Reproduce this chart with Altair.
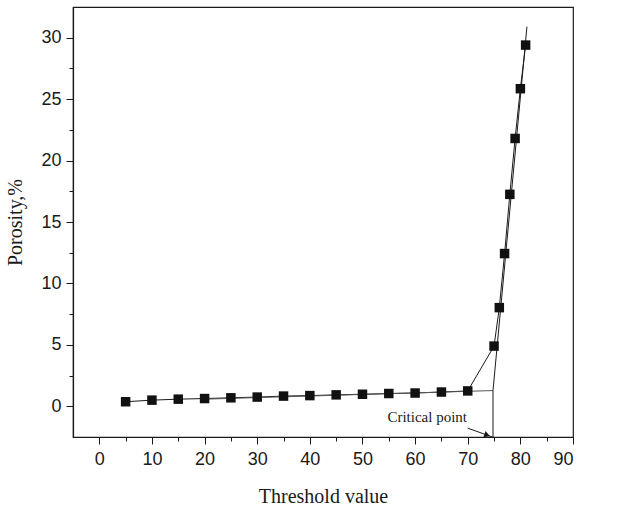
import altair as alt
import pandas as pd

# ---- data ----
threshold = [5, 10, 15, 20, 25, 30, 35, 40, 45, 50, 55, 60, 65, 70,
             75, 76, 77, 78, 79, 80, 81]
porosity = [0.37, 0.50, 0.58, 0.63, 0.69, 0.75, 0.83, 0.87, 0.93, 0.98,
            1.04, 1.08, 1.16, 1.25, 4.90, 8.03, 12.43, 17.25, 21.80, 25.85, 29.40]

low_fit_x = [20.0, 74.8]
low_fit_y = [0.58, 1.28]
steep_fit_x = [74.8, 81.25]
steep_fit_y = [1.28, 30.9]
critical_x = [74.8, 74.8]
critical_y = [1.28, -2.5]
arrow_x = [70.0, 74.7]
arrow_y = [-1.78, -2.5]
arrow_head_x = [73.7]
arrow_head_y = [-2.35]
label_x = [62.3]
label_y = [-1.3]
label_text = ["Critical point"]

x_major = [0, 10, 20, 30, 40, 50, 60, 70, 80, 90]
x_minor = [5, 15, 25, 35, 45, 55, 65, 75, 85]
y_major = [0, 5, 10, 15, 20, 25, 30]
y_minor = [2.5, 7.5, 12.5, 17.5, 22.5, 27.5]
x_domain = [-5, 90]
y_domain = [-2.5, 32.5]

SANS = "Liberation Sans"
SERIF = "Liberation Serif"
INK = "#1a1a1a"

pts = pd.DataFrame({"x": threshold, "y": porosity})
low_df = pd.DataFrame({"x": low_fit_x, "y": low_fit_y})
steep_df = pd.DataFrame({"x": steep_fit_x, "y": steep_fit_y})
crit_df = pd.DataFrame({"x": critical_x, "y": critical_y, "i": [0, 1]})
arrow_df = pd.DataFrame({"x": arrow_x, "y": arrow_y})
head_df = pd.DataFrame({"x": arrow_head_x, "y": arrow_head_y})
label_df = pd.DataFrame({"x": label_x, "y": label_y, "t": label_text})

xs = alt.Scale(domain=x_domain, nice=False, zero=False)
ys = alt.Scale(domain=y_domain, nice=False, zero=False)

x_axis_major = alt.Axis(
    values=x_major, orient="bottom", format="d", grid=False,
    tickSize=7, tickWidth=1, tickColor=INK,
    domainColor=INK, domainWidth=1.2,
    labelFont=SANS, labelFontSize=18, labelColor=INK, labelPadding=6,
    title="Threshold value", titleFont=SERIF, titleFontSize=20,
    titleFontWeight="normal", titleColor=INK,
    titleBaseline="alphabetic", titleY=65,
)
y_axis_major = alt.Axis(
    values=y_major, orient="left", format="d", grid=False,
    tickSize=7, tickWidth=1, tickColor=INK,
    domainColor=INK, domainWidth=1.2,
    labelFont=SANS, labelFontSize=18, labelColor=INK, labelPadding=5,
    title="Porosity,%", titleFont=SERIF, titleFontSize=20,
    titleFontWeight="normal", titleColor=INK,
    titleAngle=-90, titleBaseline="alphabetic", titleAlign="center",
    titleX=-52, titleY=215,
)
x_axis_minor = alt.Axis(values=x_minor, orient="bottom", grid=False,
                        tickSize=4, tickWidth=1, tickColor=INK,
                        labels=False, domain=False, title=None)
y_axis_minor = alt.Axis(values=y_minor, orient="left", grid=False,
                        tickSize=4, tickWidth=1, tickColor=INK,
                        labels=False, domain=False, title=None)


def enc(axis_x=None, axis_y=None):
    return dict(
        x=alt.X("x:Q", scale=xs, axis=axis_x),
        y=alt.Y("y:Q", scale=ys, axis=axis_y),
    )


minor = alt.Chart(pts).mark_point(opacity=0).encode(**enc(x_axis_minor, y_axis_minor))
data_line = alt.Chart(pts).mark_line(color=INK, strokeWidth=1).encode(**enc())
low_line = alt.Chart(low_df).mark_line(color="#555", strokeWidth=1).encode(**enc())
steep_line = alt.Chart(steep_df).mark_line(color=INK, strokeWidth=1).encode(**enc())
crit_line = alt.Chart(crit_df).mark_line(color=INK, strokeWidth=1).encode(
    **enc(), order=alt.Order("i:Q"))
arrow_line = alt.Chart(arrow_df).mark_line(color=INK, strokeWidth=1).encode(**enc())
arrow_head = alt.Chart(head_df).mark_point(
    shape="triangle-right", filled=True, size=45, angle=20, color=INK, opacity=1
).encode(**enc())
markers = alt.Chart(pts).mark_point(
    shape="square", filled=True, size=90, color="#111", opacity=1
).encode(**enc(x_axis_major, y_axis_major))
label = alt.Chart(label_df).mark_text(
    font=SERIF, fontSize=15, align="center", baseline="alphabetic", color=INK
).encode(**enc(), text="t:N")

chart = alt.layer(
    minor, data_line, low_line, steep_line, crit_line, arrow_line, arrow_head,
    markers, label
).resolve_axis(x="independent", y="independent").properties(
    width=500, height=430,
    padding={"left": 73, "top": 7, "right": 45, "bottom": 70},
    autosize=alt.AutoSizeParams(type="none"),
    background="white",
).configure_view(stroke=INK, strokeWidth=1.2)

chart.save("out.html", embed_options={"renderer": "svg", "actions": False})
